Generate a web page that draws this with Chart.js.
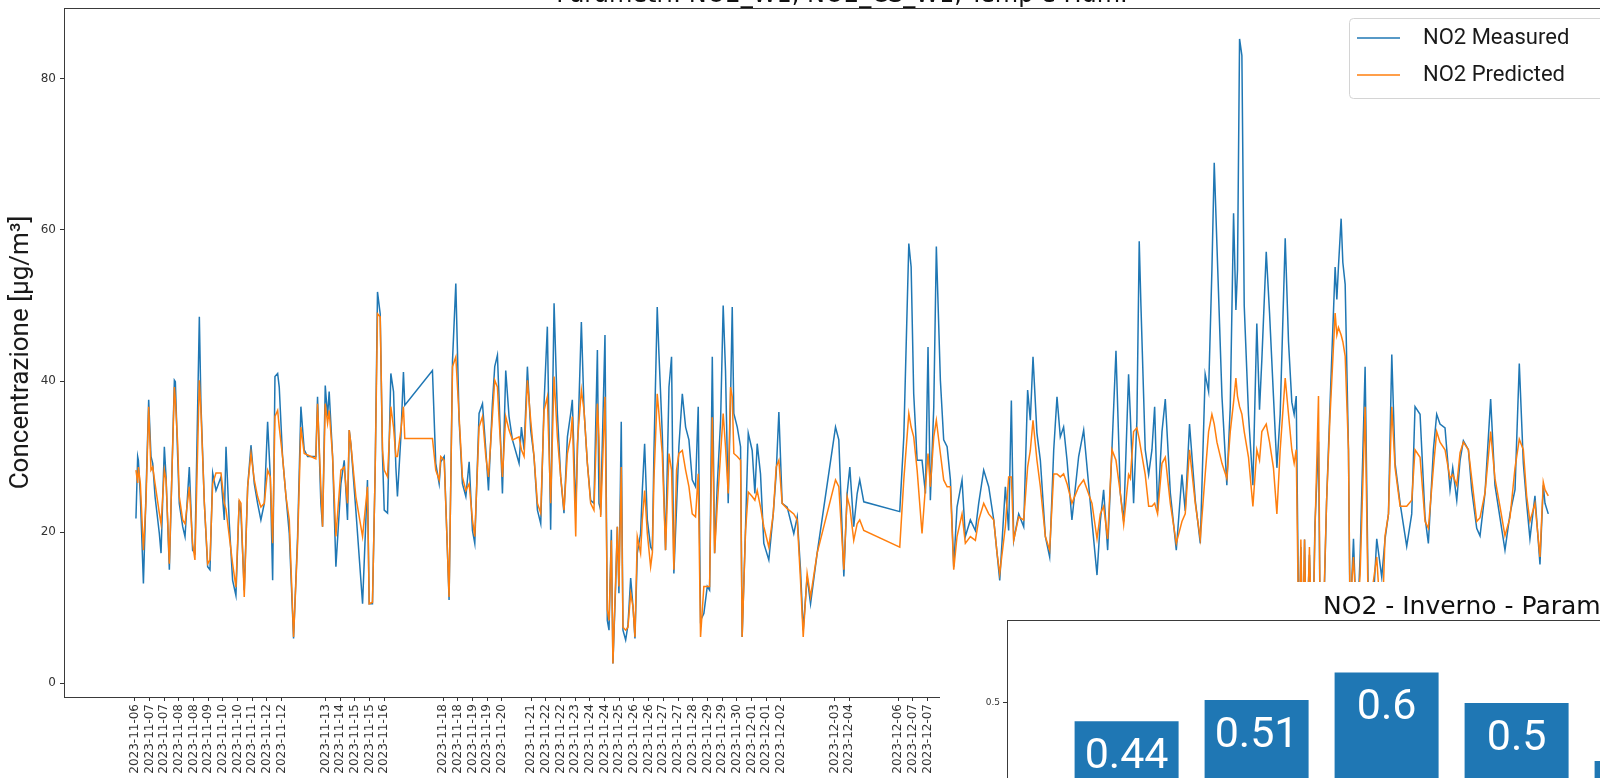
<!DOCTYPE html>
<html>
<head>
<meta charset="utf-8">
<script src="https://cdn.jsdelivr.net/npm/chart.js@4.4.1/dist/chart.umd.min.js"></script>
<style>
  html, body { margin: 0; padding: 0; width: 1600px; height: 778px; overflow: hidden; background: #fff; }
  #mainChart { position: absolute; left: 0; top: 0; }
  #barChart { position: absolute; left: 940px; top: 582px; background: #fff; }
</style>
</head>
<body>
<canvas id="mainChart" width="1640" height="800"></canvas>
<canvas id="barChart" width="920" height="300"></canvas>
<script>
// sample index of each reading (gaps in the record show as straight segments)
const sampleIdx = [1.0,2.4,3.0,4.6,7.1,9.2,11.4,13.3,14.7,16.6,
  20.1,21.5,24.2,25.6,28.3,32.4,33.2,35.1,36.4,39.2,
  41.1,44.6,47.3,49.2,52.8,54.1,56.9,59.6,61.5,63.7,
  66.4,70.5,73.2,74.6,77.3,80.0,82.7,85.4,86.8,89.5,
  92.3,95.0,97.7,100.4,103.1,105.9,108.6,110.8,112.7,114.6,
  116.8,118.1,120.8,123.6,126.3,129.8,133.1,135.8,138.5,141.3,
  148.0,149.4,152.1,153.5,155.7,157.6,158.9,161.7,164.4,168.5,
  171.2,173.9,175.3,176.6,180.7,186.2,190.2,191.6,194.3,196.5,
  198.4,200.6,202.5,203.9,206.6,209.3,211.5,213.4,214.7,217.5,
  219.6,220.7,243.3,246.0,248.8,250.1,252.9,256.9,259.7,262.4,
  265.1,267.8,270.6,273.3,276.0,277.9,281.4,284.2,286.9,289.1,
  292.3,294.2,296.4,297.8,300.5,303.2,305.9,308.7,314.1,316.0,
  318.2,320.9,323.6,326.3,329.1,331.8,334.5,337.2,339.9,342.7,
  345.4,348.1,350.8,353.6,356.3,357.6,360.4,361.7,365.0,367.2,
  369.9,372.6,375.3,378.1,379.4,380.8,384.3,386.2,387.6,389.5,
  390.8,393.0,394.4,395.7,397.6,399.0,401.2,403.1,405.3,407.2,
  408.8,410.7,413.4,414.8,416.7,418.9,421.6,423.0,424.3,427.0,
  428.4,431.1,433.8,436.6,438.7,440.6,442.8,444.7,447.5,450.2,
  452.9,455.6,458.3,460.5,462.4,465.1,467.9,469.8,472.0,473.9,
  476.0,478.8,480.9,482.8,485.0,486.9,488.3,489.6,492.4,495.1,
  496.4,499.2,501.4,504.6,506.8,508.7,511.4,514.1,518.2,521.8,
  524.2,526.4,529.1,533.2,538.6,541.4,544.1,546.3,549.5,552.3,
  557.7,572.7,575.4,579.5,582.2,584.4,587.6,590.4,592.5,595.8,
  625.2,628.5,632.6,634.5,636.6,639.4,643.4,646.2,648.3,650.2,
  653.0,655.1,658.4,661.1,663.9,666.6,669.3,672.0,676.1,678.8,
  682.9,687.0,689.7,693.8,697.9,702.0,704.7,706.9,711.5,714.2,
  716.4,718.3,722.4,726.5,729.7,731.9,734.1,737.3,740.1,744.2,
  747.7,751.0,753.7,756.4,759.1,761.9,765.9,771.4,775.5,782.3,
  786.4,789.1,791.8,795.1,798.6,801.9,805.4,808.2,812.2,813.6,
  816.3,819.0,820.9,822.3,825.8,828.6,831.3,833.5,835.9,839.5,
  842.2,846.3,851.2,855.8,858.5,862.0,866.7,870.8,874.8,877.6,
  880.3,882.2,884.4,888.5,892.5,895.3,898.0,899.9,901.2,902.9,
  904.8,906.7,910.2,913.8,917.0,919.2,921.1,924.7,927.4,930.6,
  933.4,936.1,940.2,942.9,945.6,947.5,949.2,951.5,953.0,954.5,
  956.0,957.5,960.0,962.5,964.5,967.4,969.0,971.5,974.0,976.9,
  981.0,982.4,983.7,985.9,987.3,989.2,991.9,993.2,996.0,998.7,
  1001.4,1005.5,1008.2,1011.0,1015.0,1019.1,1021.8,1024.6,1027.3,1030.0,
  1034.1,1039.5,1043.6,1046.3,1050.4,1054.5,1057.2,1061.3,1064.0,1066.7,
  1070.8,1074.9,1077.1,1080.4,1083.1,1085.8,1089.9,1092.6,1096.7,1099.4,
  1103.5,1108.1,1111.6,1115.7,1119.8,1123.9,1128.0,1131.5,1134.8,1137.5,
  1140.2,1144.3,1148.4,1151.1,1152.5,1155.2];

const measured = [21.8,30.0,29.5,24.7,13.2,25.0,37.5,30.0,29.1,24.7,
  19.8,17.2,31.3,27.3,15.0,40.1,39.9,30.0,23.8,20.7,
  19.4,28.6,17.6,17.2,48.5,37.0,23.8,15.4,15.0,27.8,
  25.5,27.3,21.6,31.3,21.1,13.6,11.6,24.2,22.5,12.3,
  26.0,31.5,26.4,23.8,21.6,23.8,34.6,27.3,13.6,40.6,
  41.0,39.2,30.0,24.7,19.8,5.9,19.4,36.6,30.9,30.0,
  30.0,37.9,23.8,20.7,39.4,35.3,38.6,30.0,15.4,26.4,
  29.5,21.6,33.5,31.7,22.9,10.5,26.9,10.5,10.5,28.2,
  51.8,48.9,30.0,22.9,22.5,41.0,38.6,28.6,24.7,32.6,
  41.2,36.8,41.4,29.1,26.4,29.3,30.0,11.0,42.7,52.9,
  34.8,26.4,24.7,29.3,20.2,18.5,35.7,37.0,30.9,25.5,
  37.0,41.9,43.4,37.5,25.1,41.4,35.3,32.2,29.1,33.9,
  30.9,41.9,33.5,30.0,22.9,21.1,37.0,47.2,20.3,50.3,
  35.7,27.3,22.5,32.6,35.7,37.5,22.9,30.0,47.8,36.1,
  29.1,24.2,23.8,44.1,23.8,22.9,46.1,8.3,7.0,20.3,
  2.6,12.8,20.7,11.9,34.6,7.0,5.7,7.7,13.9,10.1,
  5.9,17.2,19.8,25.5,31.7,21.6,18.0,17.6,30.4,49.8,
  43.6,33.1,17.6,39.2,43.2,14.5,23.3,31.3,38.3,33.9,
  32.2,26.9,26.0,36.6,8.3,9.2,12.8,12.3,43.2,17.2,
  26.0,34.8,50.0,41.4,23.8,37.4,49.8,35.7,33.9,31.3,
  6.1,20.7,33.1,30.8,25.1,31.7,27.7,18.5,16.3,22.4,
  27.7,35.9,23.8,23.3,19.8,22.0,15.0,7.0,14.1,10.5,
  17.2,33.9,32.2,14.1,25.1,28.6,20.7,25.1,26.9,24.0,
  22.7,32.6,58.2,55.1,38.3,29.5,29.5,25.1,44.5,24.2,
  36.6,57.8,40.1,32.2,31.3,26.9,15.4,23.3,26.9,19.4,
  21.6,20.2,23.8,28.2,26.0,21.6,17.2,13.6,26.0,20.2,
  37.4,18.9,22.4,20.7,38.8,34.8,43.2,33.1,29.5,19.4,
  16.7,30.8,37.9,32.6,33.9,29.5,21.6,30.0,33.5,21.4,
  14.3,21.4,25.6,17.6,30.9,44.0,25.2,21.4,40.9,35.6,
  23.8,34.8,58.5,50.0,30.9,27.6,30.9,36.6,22.8,33.3,
  37.6,25.2,17.6,27.6,22.8,34.3,24.2,18.5,40.9,38.6,
  54.7,68.9,58.0,38.0,26.2,36.6,62.2,49.4,54.7,85.3,
  83.1,50.0,35.6,26.2,47.6,36.2,42.8,57.1,49.0,38.0,
  28.5,35.6,58.9,45.2,37.2,35.6,38.0,4.0,18.0,3.0,
  19.0,5.0,17.0,3.0,21.0,32.0,3.0,8.0,24.0,37.2,
  55.1,50.8,55.1,61.5,55.7,52.8,30.9,8.0,19.1,6.0,
  16.7,41.9,10.0,7.0,19.1,14.0,19.1,22.4,43.5,29.1,
  23.8,18.1,22.4,36.6,35.6,21.9,18.5,30.9,35.6,34.3,
  33.8,25.6,28.5,24.2,29.5,32.1,30.9,25.6,20.5,19.5,
  25.2,37.6,26.2,21.9,17.6,22.4,25.6,42.3,29.1,23.8,
  19.1,24.8,15.7,26.2,23.8,22.4];

const predicted = [28.2,26.5,28.6,26.4,17.6,24.0,36.6,28.2,28.6,26.4,
  22.5,21.1,28.2,26.9,15.8,39.2,37.5,31.7,24.7,21.6,
  21.1,26.0,18.5,16.3,40.1,36.1,23.8,15.8,16.3,26.4,
  27.8,27.8,23.8,23.0,19.4,15.8,12.7,24.2,23.8,11.4,
  26.0,30.4,26.9,24.7,23.3,23.8,28.2,27.3,18.5,35.3,
  36.1,33.9,30.0,24.7,21.6,6.1,18.5,33.9,30.4,30.2,
  29.7,37.0,26.0,20.7,37.0,34.4,36.1,30.0,19.4,28.2,
  28.6,23.8,33.5,31.7,24.7,19.4,26.0,10.5,10.7,28.2,
  48.9,48.5,30.9,28.2,27.3,36.6,33.9,30.0,30.0,33.5,
  36.6,32.4,32.4,28.2,26.9,30.0,29.5,11.4,41.9,43.2,
  35.3,27.3,25.5,26.4,21.6,19.4,33.9,35.3,30.0,27.3,
  35.3,40.1,39.2,34.8,27.3,35.3,33.5,32.2,32.6,30.9,
  30.0,40.1,34.8,30.0,23.8,22.5,36.1,37.9,23.8,40.6,
  32.6,27.3,22.9,30.4,32.6,35.3,19.4,31.7,38.8,36.1,
  29.1,23.8,22.9,37.0,32.6,22.0,37.9,9.7,8.3,18.9,
  2.6,13.6,20.7,12.8,28.6,7.4,7.0,7.4,11.9,10.1,
  6.1,19.4,17.2,21.6,25.5,19.8,15.4,17.2,26.9,38.3,
  35.7,30.4,17.6,30.4,28.2,15.0,28.2,30.4,30.8,28.2,
  26.0,22.4,22.0,27.7,6.1,12.8,12.8,12.8,35.2,17.2,
  23.3,30.4,35.7,31.3,25.1,39.2,37.9,30.4,30.0,29.5,
  6.1,20.2,25.3,24.7,24.2,25.5,23.3,20.7,18.0,22.4,
  28.6,29.5,23.8,23.1,22.4,21.6,13.6,6.1,14.5,11.4,
  17.2,26.9,26.0,15.0,24.7,23.3,18.9,21.1,21.6,20.2,
  18.0,26.9,35.7,33.9,32.6,28.2,19.8,26.0,30.4,26.0,
  32.6,34.8,30.4,26.9,26.0,26.0,15.0,19.4,22.4,18.5,
  19.4,18.9,21.6,23.8,22.4,21.6,17.2,14.5,20.7,27.3,
  27.3,18.9,22.0,21.6,28.6,30.8,34.8,29.5,26.0,19.4,
  17.6,27.7,27.7,27.3,27.7,26.4,23.8,26.0,26.9,23.8,
  19.1,22.4,23.4,19.1,30.9,29.5,25.2,21.0,27.6,27.1,
  33.3,33.8,32.3,30.9,27.6,23.4,23.4,23.8,22.4,29.1,
  29.9,23.8,18.5,21.4,22.4,30.9,23.8,19.1,27.6,33.3,
  35.6,34.3,31.9,29.1,27.1,33.3,37.2,40.4,38.0,36.6,
  35.6,33.3,29.9,23.4,30.9,29.5,33.3,34.3,31.9,28.5,
  22.4,30.9,40.4,35.6,30.9,29.1,30.9,3.0,19.0,4.0,
  19.0,3.0,18.0,2.0,20.0,38.0,2.0,9.0,24.0,35.6,
  49.0,46.1,47.1,46.1,45.2,43.3,30.9,10.0,16.7,8.0,
  14.3,36.6,8.0,12.0,16.7,6.0,19.5,22.4,36.6,28.5,
  23.4,23.4,24.2,30.9,29.9,21.4,20.5,28.5,33.3,31.9,
  30.9,27.1,27.6,26.2,30.5,31.9,30.9,27.1,21.4,21.9,
  25.2,33.3,27.1,23.4,19.5,21.9,28.5,32.3,30.9,24.8,
  21.4,23.8,16.7,26.6,25.6,24.8];

// x ticks: one every 12 samples, none inside the gaps
const tickPos = [0,12,24,36,48,60,72,84,96,108,120,
  156,168,180,192,204,
  252,264,276,288,300,
  324,336,348,360,372,384,396,408,420,432,444,456,468,480,492,504,516,528,
  572,584,
  624,636,648];
const tickLabels = ['2023-11-06','2023-11-07','2023-11-07','2023-11-08','2023-11-08','2023-11-09','2023-11-10','2023-11-10','2023-11-11','2023-11-12','2023-11-12',
  '2023-11-13','2023-11-14','2023-11-15','2023-11-15','2023-11-16',
  '2023-11-18','2023-11-18','2023-11-19','2023-11-19','2023-11-20',
  '2023-11-21','2023-11-22','2023-11-22','2023-11-23','2023-11-24','2023-11-24','2023-11-25','2023-11-26','2023-11-26','2023-11-27','2023-11-27','2023-11-28','2023-11-29','2023-11-29','2023-11-30','2023-12-01','2023-12-01','2023-12-02',
  '2023-12-03','2023-12-04',
  '2023-12-06','2023-12-07','2023-12-07'];
const yTicks = [0, 20, 40, 60, 80];

const mainTitle = 'Parametri: NO2_W1, NO2_CS_W1, Temp e Hum.';
const yTitle = 'Concentrazione [µg/m³]';

// second chart (partly covered in the screenshot)
const barTitle = 'NO2 - Inverno - Parametri: NO2_W1, NO2_CS_W1, Temp e Hum.';
const barValues = [0.44, 0.51, 0.6, 0.5, 0.31];
const barTicks = [0, 0.5];

Chart.defaults.color = '#222';
Chart.defaults.font.family = 'DejaVu Sans';

function toPoints(ys) {
  return sampleIdx.map((x, i) => ({ x: x, y: ys[i] }));
}

const framePlugin = {
  id: 'frame',
  afterDraw(chart) {
    const { ctx, chartArea: a } = chart;
    ctx.save();
    ctx.strokeStyle = '#3a3a3a';
    ctx.lineWidth = 1;
    ctx.strokeRect(a.left + 0.5, a.top + 0.5, a.right - a.left, a.bottom - a.top);
    ctx.restore();
  }
};

const titlePlugin = {
  id: 'cutTitle',
  afterDraw(chart) {
    const { ctx, chartArea: a } = chart;
    ctx.save();
    ctx.font = '24px "DejaVu Sans"';
    ctx.fillStyle = '#111';
    ctx.textAlign = 'center';
    ctx.textBaseline = 'alphabetic';
    ctx.fillText(mainTitle, (a.left + a.right) / 2, 1.5);
    ctx.restore();
  }
};

const legendPlugin = {
  id: 'boxLegend',
  afterDraw(chart) {
    const { ctx, chartArea: a } = chart;
    const x0 = a.right - 271, y0 = a.top + 10;
    ctx.save();
    ctx.fillStyle = 'rgba(255,255,255,0.85)';
    ctx.strokeStyle = '#d4d4d4';
    ctx.lineWidth = 1;
    ctx.beginPath();
    ctx.roundRect(x0 + 0.5, y0 + 0.5, 261, 80, 4);
    ctx.fill();
    ctx.stroke();
    ctx.font = '22px Roboto';
    ctx.textBaseline = 'middle';
    chart.data.datasets.forEach((ds, i) => {
      const y = y0 + 20 + i * 37;
      ctx.strokeStyle = ds.borderColor;
      ctx.lineWidth = 1.5;
      ctx.beginPath();
      ctx.moveTo(x0 + 8, y);
      ctx.lineTo(x0 + 51, y);
      ctx.stroke();
      ctx.fillStyle = '#1a1a1a';
      ctx.fillText(ds.label, x0 + 74, y);
    });
    ctx.restore();
  }
};

new Chart(document.getElementById('mainChart'), {
  type: 'line',
  data: {
    datasets: [
      { label: 'NO2 Measured', data: toPoints(measured), borderColor: '#1f77b4', borderWidth: 1.5, pointRadius: 0, order: 1 },
      { label: 'NO2 Predicted', data: toPoints(predicted), borderColor: '#ff7f0e', borderWidth: 1.5, pointRadius: 0, order: 0 }
    ]
  },
  options: {
    responsive: false,
    animation: false,
    devicePixelRatio: 1,
    layout: { padding: { top: 8, right: 20, left: 0, bottom: 0 } },
    plugins: { legend: { display: false }, tooltip: { enabled: false } },
    scales: {
      x: {
        type: 'linear',
        min: -57.8,
        max: 1213.8,
        afterBuildTicks: s => { s.ticks = tickPos.map(v => ({ value: v })); },
        afterFit: s => { s.height = 103; },
        ticks: {
          autoSkip: false, minRotation: 90, maxRotation: 90, padding: 3,
          font: { size: 12 }, color: '#333',
          callback: (v, i) => tickLabels[i]
        },
        grid: { drawOnChartArea: false, tickLength: 4, color: '#333' },
        border: { color: '#3a3a3a' }
      },
      y: {
        min: -1.85,
        max: 89.4,
        afterBuildTicks: s => { s.ticks = yTicks.map(v => ({ value: v })); },
        afterFit: s => { s.width = 64; s.paddingTop = 0; s.paddingBottom = 0; },
        ticks: { font: { size: 12 }, color: '#333', padding: 4 },
        grid: { drawOnChartArea: false, tickLength: 4, color: '#333' },
        border: { color: '#3a3a3a' },
        title: {
          display: true, text: yTitle, color: '#1a1a1a',
          font: { family: 'Roboto', size: 26 }, padding: { top: 6, bottom: 0 }
        }
      }
    }
  },
  plugins: [framePlugin, titlePlugin, legendPlugin]
});

const barLabelPlugin = {
  id: 'barLabels',
  afterDatasetsDraw(chart) {
    const { ctx } = chart;
    const yScale = chart.scales.y;
    ctx.save();
    ctx.fillStyle = '#fff';
    ctx.font = '43px Roboto';
    ctx.textAlign = 'center';
    ctx.textBaseline = 'middle';
    chart.getDatasetMeta(0).data.forEach((bar, i) => {
      ctx.fillText(String(barValues[i]), bar.x, yScale.getPixelForValue(barValues[i] - 0.118));
    });
    ctx.restore();
  }
};

const barTitlePlugin = {
  id: 'barTitle',
  afterDraw(chart) {
    const { ctx, chartArea: a } = chart;
    ctx.save();
    ctx.font = '25px "DejaVu Sans"';
    ctx.fillStyle = '#111';
    ctx.textAlign = 'left';
    ctx.textBaseline = 'alphabetic';
    ctx.fillText(barTitle, a.left + 316, a.top - 6);
    ctx.restore();
  }
};

new Chart(document.getElementById('barChart'), {
  type: 'bar',
  data: {
    datasets: [{
      data: barValues.map((v, i) => ({ x: i, y: v })),
      backgroundColor: '#1f77b4',
      barPercentage: 0.8,
      categoryPercentage: 1
    }]
  },
  options: {
    responsive: false,
    animation: false,
    devicePixelRatio: 1,
    layout: { padding: { top: 38, right: 18.4, bottom: 26.5, left: 0 } },
    plugins: { legend: { display: false }, tooltip: { enabled: false } },
    scales: {
      x: {
        type: 'linear', min: -0.92, max: 5.5, offset: false, display: false,
        afterBuildTicks: s => { s.ticks = barValues.map((v, i) => ({ value: i })); }
      },
      y: {
        min: 0, max: 0.772,
        afterBuildTicks: s => { s.ticks = barTicks.map(v => ({ value: v })); },
        afterFit: s => { s.width = 67; s.paddingTop = 0; s.paddingBottom = 0; },
        ticks: { font: { size: 9 }, color: '#333', padding: 3 },
        grid: { drawOnChartArea: false, tickLength: 4, color: '#333' },
        border: { color: '#555' }
      }
    }
  },
  plugins: [framePlugin, barLabelPlugin, barTitlePlugin]
});
</script>
</body>
</html>
